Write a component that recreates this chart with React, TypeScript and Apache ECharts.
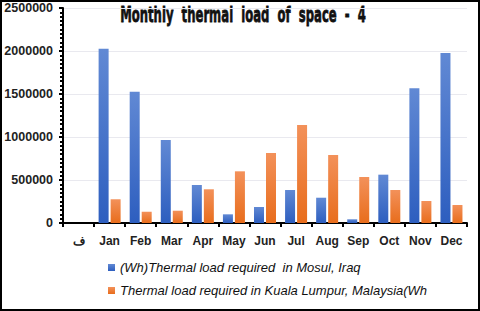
import React, { useEffect, useRef } from "react";
import * as echarts from "echarts";

const categories = ["ف", "Jan", "Feb", "Mar", "Apr", "May", "Jun", "Jul", "Aug", "Sep", "Oct", "Nov", "Dec"];
const mosul = [null, 2025000, 1527000, 965000, 442000, 101000, 186000, 384000, 294000, 43000, 562000, 1566000, 1977000];
const kualaLumpur = [null, 276000, 131000, 143000, 392000, 601000, 814000, 1140000, 791000, 535000, 384000, 256000, 209000];
const seriesNames = [
  "(Wh)Thermal load required  in Mosul, Iraq",
  "Thermal load required in Kuala Lumpur, Malaysia(Wh",
];
const titleText = "Monthly  thermal  load  of  space  -  4";

export default function App() {
  const ref = useRef<HTMLDivElement>(null);
  useEffect(() => {
    if (!ref.current) return;
    const chart = echarts.init(ref.current, null, { renderer: "svg" });
    const blue = new echarts.graphic.LinearGradient(0, 0, 0, 1, [
      { offset: 0, color: "#6189d4" },
      { offset: 1, color: "#2d5ebf" },
    ]);
    const orange = new echarts.graphic.LinearGradient(0, 0, 0, 1, [
      { offset: 0, color: "#f3915a" },
      { offset: 1, color: "#e86d1c" },
    ]);
    chart.setOption({
      animation: false,
      backgroundColor: "#fff",
      legend: {
        orient: "vertical",
        left: 103,
        top: 256,
        itemGap: 10,
        itemWidth: 7,
        itemHeight: 7,
        icon: "rect",
        textStyle: {
          fontFamily: "'Liberation Sans', Arial, sans-serif",
          fontStyle: "italic",
          fontSize: 13,
          color: "#111",
        },
        data: seriesNames,
      },
      grid: { left: 63, right: 13, top: 8, bottom: 88 },
      xAxis: {
        type: "category",
        data: categories,
        axisLine: { lineStyle: { color: "#000", width: 2 } },
        axisTick: { show: true, length: 4, lineStyle: { color: "#000", width: 2 } },
        axisLabel: {
          color: "#222",
          fontWeight: "bold",
          fontSize: 12,
          margin: 12,
          fontFamily: "'Liberation Sans', Arial, sans-serif",
        },
      },
      yAxis: {
        type: "value",
        min: 0,
        max: 2500000,
        interval: 500000,
        axisLine: { show: true, lineStyle: { color: "#000", width: 2 } },
        axisTick: { show: true, length: 4, lineStyle: { color: "#000", width: 2 } },
        minorTick: { show: true, splitNumber: 10, length: 3, lineStyle: { color: "#000", width: 2 } },
        splitLine: { lineStyle: { color: "#e9e9ef", width: 1 } },
        axisLabel: {
          color: "#222",
          fontWeight: "bold",
          fontSize: 12.5,
          margin: 10,
          fontFamily: "'Liberation Sans', Arial, sans-serif",
          formatter: (v: number) => String(v),
        },
      },
      series: [
        {
          name: seriesNames[0],
          type: "bar",
          data: mosul,
          barWidth: 10,
          barGap: "20%",
          itemStyle: { color: blue },
        },
        {
          name: seriesNames[1],
          type: "bar",
          data: kualaLumpur,
          barWidth: 10,
          itemStyle: { color: orange },
        },
      ],
      graphic: [
        {
          type: "text",
          x: 243,
          y: 3,
          scaleX: 0.53,
          silent: true,
          style: {
            text: titleText,
            textAlign: "center",
            textVerticalAlign: "top",
            fill: "#111",
            stroke: "#111",
            lineWidth: 0.8,
            font: "bold 22px 'DejaVu Sans', sans-serif",
          },
        },
        {
          type: "rect",
          shape: { x: 1, y: 1, width: 478, height: 309 },
          style: { fill: "none", stroke: "#000", lineWidth: 2 },
          silent: true,
        },
      ],
    });
    return () => chart.dispose();
  }, []);
  return (
    <div
      ref={ref}
      style={{ position: "fixed", left: 0, top: 0, width: 480, height: 311 }}
    />
  );
}
